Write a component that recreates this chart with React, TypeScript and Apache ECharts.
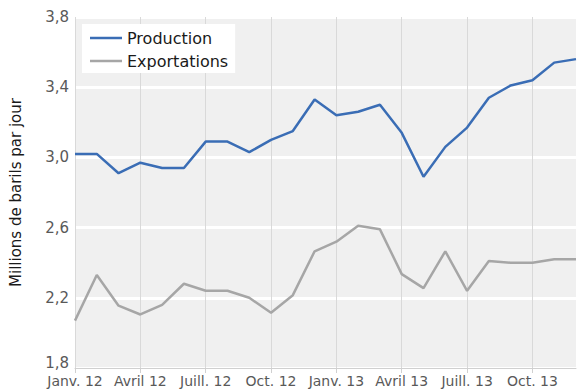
import React, { useEffect, useRef } from "react";
import * as echarts from "echarts";

const months = [
  "Janv. 12", "Févr. 12", "Mars 12", "Avril 12", "Mai 12", "Juin 12",
  "Juill. 12", "Août 12", "Sept. 12", "Oct. 12", "Nov. 12", "Déc. 12",
  "Janv. 13", "Févr. 13", "Mars 13", "Avril 13", "Mai 13", "Juin 13",
  "Juill. 13", "Août 13", "Sept. 13", "Oct. 13", "Nov. 13", "Déc. 13",
];

const production = [
  3.02, 3.02, 2.91, 2.97, 2.94, 2.94, 3.09, 3.09, 3.03, 3.10, 3.15, 3.33,
  3.24, 3.26, 3.30, 3.14, 2.89, 3.06, 3.17, 3.34, 3.41, 3.44, 3.54, 3.56,
];

const exportations = [
  2.07, 2.33, 2.155, 2.105, 2.16, 2.28, 2.24, 2.24, 2.20, 2.115, 2.215, 2.465,
  2.52, 2.61, 2.59, 2.335, 2.255, 2.465, 2.24, 2.41, 2.40, 2.40, 2.42, 2.42,
];

const FONT = "DejaVu Sans";

export default function App() {
  const ref = useRef<HTMLDivElement>(null);
  useEffect(() => {
    if (!ref.current) return;
    const chart = echarts.init(ref.current, null, { renderer: "svg" });
    chart.setOption({
      animation: false,
      textStyle: { fontFamily: FONT },
      grid: {
        left: 72,
        right: 4,
        top: 17,
        bottom: 24,
        show: true,
        backgroundColor: "#f0f0f0",
        borderWidth: 0,
      },
      legend: {
        orient: "vertical",
        left: 82,
        top: 24,
        backgroundColor: "#ffffff",
        padding: [5, 7, 3, 8],
        icon: "rect",
        itemWidth: 32,
        itemHeight: 2.5,
        itemGap: 5,
        textStyle: { fontFamily: FONT, fontSize: 16, lineHeight: 18, color: "#1a1a1a" },
        data: ["Production", "Exportations"],
      },
      xAxis: {
        type: "category",
        data: months,
        boundaryGap: false,
        axisLine: { show: true, lineStyle: { color: "#d0d0d0", width: 1 } },
        axisTick: { show: true, interval: 2, length: 5, lineStyle: { color: "#d0d0d0" } },
        axisLabel: {
          interval: 2,
          fontFamily: FONT,
          fontSize: 14,
          color: "#595959",
          margin: 6,
        },
        splitLine: { show: true, interval: 2, lineStyle: { color: "#d9d9d9", width: 1 } },
      },
      yAxis: {
        type: "value",
        min: 1.8,
        max: 3.8,
        interval: 0.4,
        name: "Millions de barils par jour",
        nameLocation: "middle",
        nameGap: 52,
        nameTextStyle: { fontFamily: FONT, fontSize: 15, color: "#1a1a1a" },
        axisLine: { show: false },
        axisTick: { show: false },
        axisLabel: {
          fontFamily: FONT,
          fontSize: 15,
          color: "#595959",
          margin: 6,
          formatter: (v: number) => {
            const s = v.toFixed(1).replace(".", ",");
            return Math.abs(v - 1.8) < 1e-6 ? "{low|" + s + "}" : s;
          },
          rich: {
            low: { fontFamily: FONT, fontSize: 15, color: "#595959", padding: [0, 0, 10, 0] },
          },
        },
        splitLine: { show: true, lineStyle: { color: "#ffffff", width: 3 } },
      },
      series: [
        {
          name: "Production",
          type: "line",
          data: production,
          symbol: "none",
          lineStyle: { color: "#3a6db5", width: 2.5 },
          itemStyle: { color: "#3a6db5" },
        },
        {
          name: "Exportations",
          type: "line",
          data: exportations,
          symbol: "none",
          lineStyle: { color: "#a6a6a6", width: 2.5 },
          itemStyle: { color: "#a6a6a6" },
        },
      ],
    });
    return () => chart.dispose();
  }, []);
  return <div ref={ref} style={{ width: 580, height: 392, position: "absolute", left: 0, top: 0 }} />;
}
